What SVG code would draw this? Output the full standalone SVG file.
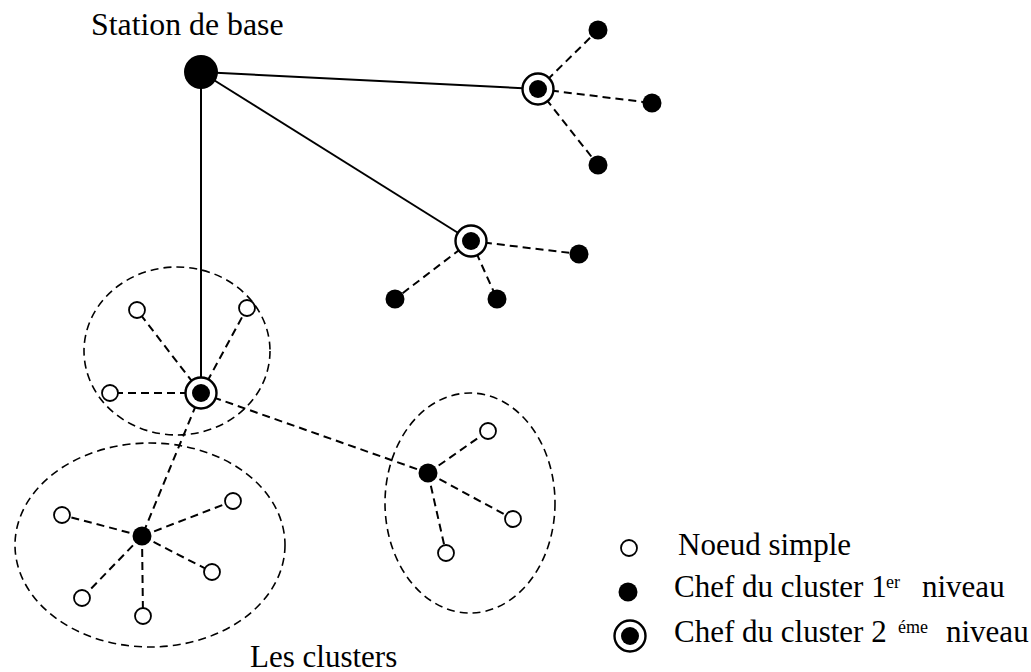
<svg xmlns="http://www.w3.org/2000/svg" width="1031" height="672" viewBox="0 0 1031 672">
<style>
text{font-family:"Liberation Serif","Times New Roman",serif;fill:#000;font-size:31px}
.big{font-size:31.8px}
.sup{font-size:18px}
.solid{stroke:#000;stroke-width:2;fill:none}
.dash{stroke:#000;stroke-width:2;fill:none;stroke-dasharray:8 5}
.cl{stroke:#000;stroke-width:1.6;fill:none;stroke-dasharray:8 5}
.simple{fill:#fff;stroke:#000;stroke-width:1.8}
.head{fill:#000}
.ring{fill:#fff;stroke:#000;stroke-width:2.4}
</style>
<rect width="1031" height="672" fill="#fff"/>
<g id="clusters">
<ellipse class="cl" cx="177" cy="351" rx="93" ry="84"/>
<ellipse class="cl" cx="150" cy="545" rx="135" ry="102"/>
<ellipse class="cl" cx="470" cy="503" rx="85" ry="110"/>
</g>
<g id="connectors">
<line class="solid" x1="201" y1="72" x2="538" y2="89"/>
<line class="solid" x1="201" y1="72" x2="471" y2="241"/>
<line class="solid" x1="201" y1="72" x2="201" y2="393"/>
<line class="dash" x1="538" y1="89" x2="598" y2="30"/>
<line class="dash" x1="538" y1="89" x2="652" y2="103"/>
<line class="dash" x1="538" y1="89" x2="598" y2="165"/>
<line class="dash" x1="471" y1="241" x2="579" y2="254"/>
<line class="dash" x1="471" y1="241" x2="497" y2="299"/>
<line class="dash" x1="471" y1="241" x2="395" y2="299"/>
<line class="dash" x1="201" y1="393" x2="137" y2="310"/>
<line class="dash" x1="201" y1="393" x2="247" y2="308"/>
<line class="dash" x1="201" y1="393" x2="110" y2="393"/>
<line class="dash" x1="201" y1="393" x2="428" y2="473"/>
<line class="dash" x1="201" y1="393" x2="142" y2="536"/>
<line class="dash" x1="142" y1="536" x2="62" y2="515"/>
<line class="dash" x1="142" y1="536" x2="233" y2="501"/>
<line class="dash" x1="142" y1="536" x2="212" y2="572"/>
<line class="dash" x1="142" y1="536" x2="82" y2="598"/>
<line class="dash" x1="142" y1="536" x2="143" y2="616"/>
<line class="dash" x1="428" y1="473" x2="488" y2="431"/>
<line class="dash" x1="428" y1="473" x2="513" y2="519"/>
<line class="dash" x1="428" y1="473" x2="446" y2="553"/>
</g>
<g id="base"><circle class="head" cx="201" cy="72" r="17"/></g>
<g id="base-label"><text class="big" x="91" y="35">Station de base</text></g>
<g id="ch2-a"><circle class="ring" cx="538" cy="89" r="15.5"/><circle class="head" cx="538" cy="89" r="9"/></g>
<g id="ch2-b"><circle class="ring" cx="471" cy="241" r="15.5"/><circle class="head" cx="471" cy="241" r="9"/></g>
<g id="ch2-c"><circle class="ring" cx="201" cy="393" r="15.5"/><circle class="head" cx="201" cy="393" r="9"/></g>
<g id="a1"><circle class="head" cx="598" cy="30" r="9.5"/></g>
<g id="a2"><circle class="head" cx="652" cy="103" r="9.5"/></g>
<g id="a3"><circle class="head" cx="598" cy="165" r="9.5"/></g>
<g id="b1"><circle class="head" cx="579" cy="254" r="9.5"/></g>
<g id="b2"><circle class="head" cx="497" cy="299" r="9.5"/></g>
<g id="b3"><circle class="head" cx="395" cy="299" r="9.5"/></g>
<g id="c1"><circle class="simple" cx="137" cy="310" r="8"/></g>
<g id="c2"><circle class="simple" cx="247" cy="308" r="8"/></g>
<g id="c3"><circle class="simple" cx="110" cy="393" r="8"/></g>
<g id="ch1-d"><circle class="head" cx="142" cy="536" r="9.5"/></g>
<g id="d1"><circle class="simple" cx="62" cy="515" r="8"/></g>
<g id="d2"><circle class="simple" cx="233" cy="501" r="8"/></g>
<g id="d3"><circle class="simple" cx="212" cy="572" r="8"/></g>
<g id="d4"><circle class="simple" cx="82" cy="598" r="8"/></g>
<g id="d5"><circle class="simple" cx="143" cy="616" r="8"/></g>
<g id="ch1-e"><circle class="head" cx="428" cy="473" r="9.5"/></g>
<g id="e1"><circle class="simple" cx="488" cy="431" r="8"/></g>
<g id="e2"><circle class="simple" cx="513" cy="519" r="8"/></g>
<g id="e3"><circle class="simple" cx="446" cy="553" r="8"/></g>
<g id="clusters-label"><text x="250" y="667">Les clusters</text></g>
<g id="legend">
<circle class="simple" cx="629" cy="548" r="8"/>
<text x="678" y="555">Noeud simple</text>
<circle class="head" cx="628" cy="592" r="9.5"/>
<text x="674" y="597">Chef du cluster 1<tspan class="sup" x="886" dy="-9">er</tspan><tspan x="922" dy="9">niveau</tspan></text>
<circle class="ring" cx="630" cy="636" r="15.5"/><circle class="head" cx="630" cy="636" r="9"/>
<text x="674" y="642">Chef du cluster 2<tspan class="sup" x="898" dy="-9">éme</tspan><tspan x="946" dy="9">niveau</tspan></text>
</g>
</svg>
